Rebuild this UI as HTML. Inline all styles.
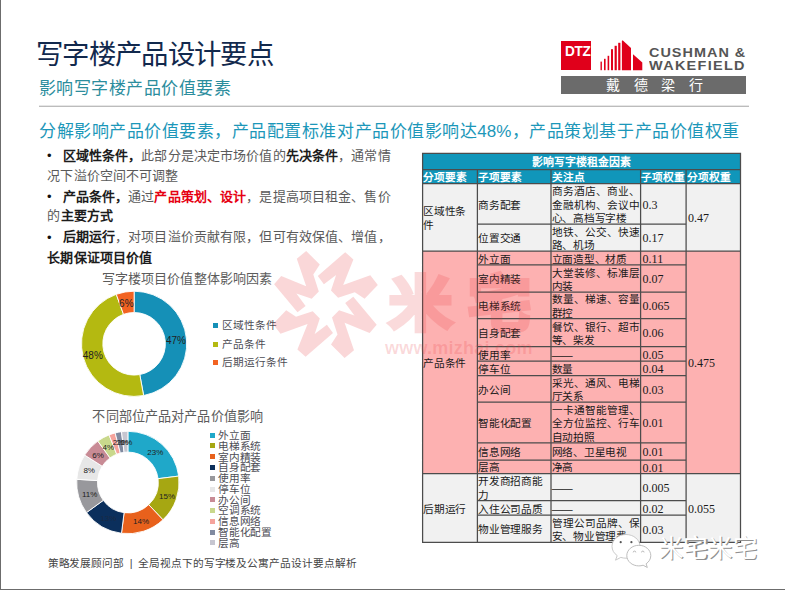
<!DOCTYPE html>
<html lang="zh-CN">
<head>
<meta charset="utf-8">
<title>写字楼产品设计要点</title>
<style>
html,body{margin:0;padding:0;background:#fff;}
body{width:785px;height:590px;position:relative;overflow:hidden;font-family:"Liberation Sans",sans-serif;color:#222;}
.a{position:absolute;white-space:nowrap;margin:0;padding:0;}
.t{position:absolute;white-space:nowrap;letter-spacing:-0.4px;font-size:10.67px;line-height:13.4px;height:13.4px;color:#1a1a1a;}
.n{position:absolute;white-space:nowrap;font-family:"Liberation Serif",serif;font-size:12px;line-height:13.4px;height:13.4px;color:#1a1a1a;}
.h{position:absolute;white-space:nowrap;letter-spacing:-0.2px;font-size:10.67px;line-height:13.4px;height:13.4px;color:#fff;font-weight:bold;}
.b{position:absolute;white-space:nowrap;font-size:13px;line-height:20px;height:20px;color:#5a5a5a;}
.b b{color:#1c1c1c;}
.b b.r{color:#e60012;}
.lg{position:absolute;white-space:nowrap;letter-spacing:-0.4px;font-size:10.67px;line-height:12px;height:12px;color:#4d4d55;}
.sq{position:absolute;width:5px;height:5px;}
.pl{position:absolute;white-space:nowrap;font-size:10px;line-height:12px;height:12px;color:#222;transform:translate(-50%,-50%);}
svg{position:absolute;left:0;top:0;overflow:visible;}
</style>
</head>
<body>

<div class="a" style="left:0;top:0;width:1px;height:590px;background:#6c6c6c"></div>
<div class="a" style="left:0;top:589px;width:785px;height:1px;background:#6c6c6c"></div>
<div class="a" style="left:36.0px;top:37.0px;font-size:27.4px;line-height:35.6px;height:35.6px;color:#12294d;font-weight:300;letter-spacing:-2px;width:235.8px;text-align:justify;text-align-last:justify;">写字楼产品设计要点</div>
<div class="a" style="left:39.0px;top:77.5px;font-size:17px;line-height:22.1px;height:22.1px;color:#2b8d9d;width:191.6px;text-align:justify;text-align-last:justify;">影响写字楼产品价值要素</div>
<div class="a" style="left:39px;top:105px;width:710px;height:2px;background:linear-gradient(#e6e6e6 50%,#bcbcbc 50%)"></div>
<div class="a" style="left:39.0px;top:121.0px;font-size:17px;line-height:22.1px;height:22.1px;color:#1c97b9;width:700.2px;text-align:justify;text-align-last:justify;">分解影响产品价值要素，产品配置标准对产品价值影响达48%，产品策划基于产品价值权重</div>
<div class="a" style="left:47.0px;top:146.1px;font-size:13px;line-height:20px;height:20px;color:#111">•</div>
<div class="b" style="left:62.6px;top:145.7px;width:328.0px;text-align:justify;text-align-last:justify;"><b>区域性条件，</b>此部分是决定市场价值的<b>先决条件</b>，通常情</div>
<div class="b" style="left:47.4px;top:165.6px;width:130.6px;text-align:justify;text-align-last:justify;">况下溢价空间不可调整</div>
<div class="a" style="left:47.0px;top:186.9px;font-size:13px;line-height:20px;height:20px;color:#111">•</div>
<div class="b" style="left:62.6px;top:186.5px;width:328.0px;text-align:justify;text-align-last:justify;"><b>产品条件，</b>通过<b class="r">产品策划、设计</b>，是提高项目租金、售价</div>
<div class="b" style="left:47.4px;top:206.3px;width:65.4px;text-align:justify;text-align-last:justify;">的<b>主要方式</b></div>
<div class="a" style="left:47.0px;top:227.6px;font-size:13px;line-height:20px;height:20px;color:#111">•</div>
<div class="b" style="left:62.6px;top:227.2px;width:328.0px;text-align:justify;text-align-last:justify;"><b>后期运行</b>，对项目溢价贡献有限，但可有效保值、增值，</div>
<div class="b" style="left:47.4px;top:247.6px;width:104.6px;text-align:justify;text-align-last:justify;"><b>长期保证项目价值</b></div>
<div class="a" style="left:102.0px;top:270.2px;font-size:13.05px;line-height:17.0px;height:17.0px;color:#5c5c5c;width:170.0px;text-align:justify;text-align-last:justify;">写字楼项目价值整体影响因素</div>
<div class="a" style="left:92.4px;top:408.2px;font-size:13.1px;line-height:17.0px;height:17.0px;color:#5c5c5c;width:170.6px;text-align:justify;text-align-last:justify;">不同部位产品对产品价值影响</div>
<svg width="785" height="590" viewBox="0 0 785 590">
<path d="M134.10 291.20A52.6 52.6 0 0 1 143.63 395.53L139.77 374.58A31.3 31.3 0 0 0 134.10 312.50Z" fill="#1590b7" stroke="#fff" stroke-width="0.9" stroke-linejoin="round"/>
<path d="M143.63 395.53A52.6 52.6 0 0 1 116.28 294.31L123.50 314.35A31.3 31.3 0 0 0 139.77 374.58Z" fill="#b4b911" stroke="#fff" stroke-width="0.9" stroke-linejoin="round"/>
<path d="M116.28 294.31A52.6 52.6 0 0 1 134.10 291.20L134.10 312.50A31.3 31.3 0 0 0 123.50 314.35Z" fill="#f26322" stroke="#fff" stroke-width="0.9" stroke-linejoin="round"/>
<path d="M127.90 431.30A51.2 51.2 0 0 1 178.70 476.08L158.06 478.69A30.4 30.4 0 0 0 127.90 452.10Z" fill="#1fa8c9" stroke="#fff" stroke-width="0.9" stroke-linejoin="round"/>
<path d="M178.70 476.08A51.2 51.2 0 0 1 162.95 519.82L148.71 504.66A30.4 30.4 0 0 0 158.06 478.69Z" fill="#a6a712" stroke="#fff" stroke-width="0.9" stroke-linejoin="round"/>
<path d="M162.95 519.82A51.2 51.2 0 0 1 121.48 533.30L124.09 512.66A30.4 30.4 0 0 0 148.71 504.66Z" fill="#e8611c" stroke="#fff" stroke-width="0.9" stroke-linejoin="round"/>
<path d="M121.48 533.30A51.2 51.2 0 0 1 86.48 512.59L103.31 500.37A30.4 30.4 0 0 0 124.09 512.66Z" fill="#0b2f5c" stroke="#fff" stroke-width="0.9" stroke-linejoin="round"/>
<path d="M86.48 512.59A51.2 51.2 0 0 1 76.80 479.29L97.56 480.59A30.4 30.4 0 0 0 103.31 500.37Z" fill="#98989c" stroke="#fff" stroke-width="0.9" stroke-linejoin="round"/>
<path d="M76.80 479.29A51.2 51.2 0 0 1 84.67 455.07L102.23 466.21A30.4 30.4 0 0 0 97.56 480.59Z" fill="#e7e7e7" stroke="#fff" stroke-width="0.9" stroke-linejoin="round"/>
<path d="M84.67 455.07A51.2 51.2 0 0 1 97.81 441.08L110.03 457.91A30.4 30.4 0 0 0 102.23 466.21Z" fill="#c88b95" stroke="#fff" stroke-width="0.9" stroke-linejoin="round"/>
<path d="M97.81 441.08A51.2 51.2 0 0 1 109.05 434.90L116.71 454.23A30.4 30.4 0 0 0 110.03 457.91Z" fill="#c9d88c" stroke="#fff" stroke-width="0.9" stroke-linejoin="round"/>
<path d="M109.05 434.90A51.2 51.2 0 0 1 115.17 432.91L120.34 453.06A30.4 30.4 0 0 0 116.71 454.23Z" fill="#f5a39c" stroke="#fff" stroke-width="0.9" stroke-linejoin="round"/>
<path d="M115.17 432.91A51.2 51.2 0 0 1 121.48 431.70L124.09 452.34A30.4 30.4 0 0 0 120.34 453.06Z" fill="#808aa0" stroke="#fff" stroke-width="0.9" stroke-linejoin="round"/>
<path d="M121.48 431.70A51.2 51.2 0 0 1 127.90 431.30L127.90 452.10A30.4 30.4 0 0 0 124.09 452.34Z" fill="#c6c6d0" stroke="#fff" stroke-width="0.9" stroke-linejoin="round"/>
</svg>
<div class="pl" style="left:175.9px;top:341.4px;color:#222;font-size:10px">47%</div>
<div class="pl" style="left:92.8px;top:356.2px;color:#222;font-size:10px">48%</div>
<div class="pl" style="left:126.3px;top:303.9px;color:#222;font-size:10px">6%</div>
<div class="pl" style="left:155.3px;top:453.2px;color:#222;font-size:8px">23%</div>
<div class="pl" style="left:167px;top:497.3px;color:#222;font-size:8px">15%</div>
<div class="pl" style="left:141.1px;top:522.3px;color:#222;font-size:8px">14%</div>
<div class="pl" style="left:108.3px;top:518.9px;color:#1a2a44;font-size:8px">13%</div>
<div class="pl" style="left:89.7px;top:495.2px;color:#222;font-size:8px">11%</div>
<div class="pl" style="left:89.2px;top:471.2px;color:#222;font-size:8px">8%</div>
<div class="pl" style="left:98.1px;top:456.0px;color:#222;font-size:8px">6%</div>
<div class="pl" style="left:108.3px;top:447.9px;color:#222;font-size:8px">4%</div>
<div class="pl" style="left:118.5px;top:443.4px;color:#222;font-size:8px">2%</div>
<div class="pl" style="left:122.5px;top:443.4px;color:#222;font-size:8px">2%</div>
<div class="pl" style="left:126.5px;top:443.4px;color:#222;font-size:8px">2%</div>
<div class="sq" style="left:213.2px;top:323.0px;background:#1590b7"></div>
<div class="lg" style="left:221.8px;top:319.4px;width:54.5px;text-align:justify;text-align-last:justify;">区域性条件</div>
<div class="sq" style="left:213.2px;top:341.6px;background:#b4b911"></div>
<div class="lg" style="left:221.8px;top:338.0px;width:43.6px;text-align:justify;text-align-last:justify;">产品条件</div>
<div class="sq" style="left:213.2px;top:359.7px;background:#f26322"></div>
<div class="lg" style="left:221.8px;top:356.1px;width:65.4px;text-align:justify;text-align-last:justify;">后期运行条件</div>
<div class="sq" style="left:210.0px;top:432.9px;background:#1fa8c9"></div>
<div class="lg" style="left:218.3px;top:429.3px;width:32.1px;text-align:justify;text-align-last:justify;">外立面</div>
<div class="sq" style="left:210.0px;top:443.4px;background:#a6a712"></div>
<div class="lg" style="left:218.3px;top:439.8px;width:42.8px;text-align:justify;text-align-last:justify;">电梯系统</div>
<div class="sq" style="left:210.0px;top:454.2px;background:#e8611c"></div>
<div class="lg" style="left:218.3px;top:450.6px;width:42.8px;text-align:justify;text-align-last:justify;">室内精装</div>
<div class="sq" style="left:210.0px;top:465.0px;background:#0b2f5c"></div>
<div class="lg" style="left:218.3px;top:461.4px;width:42.8px;text-align:justify;text-align-last:justify;">自身配套</div>
<div class="sq" style="left:210.0px;top:475.8px;background:#98989c"></div>
<div class="lg" style="left:218.3px;top:472.2px;width:32.1px;text-align:justify;text-align-last:justify;">使用率</div>
<div class="sq" style="left:210.0px;top:486.8px;background:#e7e7e7"></div>
<div class="lg" style="left:218.3px;top:483.2px;width:32.1px;text-align:justify;text-align-last:justify;">停车位</div>
<div class="sq" style="left:210.0px;top:497.4px;background:#c88b95"></div>
<div class="lg" style="left:218.3px;top:493.8px;width:32.1px;text-align:justify;text-align-last:justify;">办公间</div>
<div class="sq" style="left:210.0px;top:508.0px;background:#c9d88c"></div>
<div class="lg" style="left:218.3px;top:504.4px;width:42.8px;text-align:justify;text-align-last:justify;">空调系统</div>
<div class="sq" style="left:210.0px;top:518.8px;background:#f5a39c"></div>
<div class="lg" style="left:218.3px;top:515.2px;width:42.8px;text-align:justify;text-align-last:justify;">信息网络</div>
<div class="sq" style="left:210.0px;top:529.8px;background:#808aa0"></div>
<div class="lg" style="left:218.3px;top:526.2px;width:53.5px;text-align:justify;text-align-last:justify;">智能化配置</div>
<div class="sq" style="left:210.0px;top:540.3px;background:#c6c6d0"></div>
<div class="lg" style="left:218.3px;top:536.7px;width:21.4px;text-align:justify;text-align-last:justify;">层高</div>
<div class="a" style="left:47.6px;top:556.6px;font-size:10.67px;line-height:13.9px;height:13.9px;color:#444;letter-spacing:-0.3px;width:308.8px;text-align:justify;text-align-last:justify;">策略发展顾问部&nbsp;&nbsp;|&nbsp;&nbsp;全局视点下的写字楼及公寓产品设计要点解析</div>
<svg width="785" height="590" viewBox="0 0 785 590">
<rect x="422.6" y="153.3" width="317.9" height="30.4" fill="#1096ba"/>
<rect x="422.6" y="183.7" width="317.9" height="67.3" fill="#f1f1f1"/>
<rect x="422.6" y="251" width="317.9" height="222.5" fill="#fdb1b1"/>
<rect x="422.6" y="473.5" width="317.9" height="68.9" fill="#f1f1f1"/>
<path d="M422.6 153.3H740.5M422.6 169.5H740.5M422.6 183.7H740.5M477.4 224H686.1M422.6 251H740.5M477.4 264.9H686.1M477.4 292.1H686.1M477.4 318.6H686.1M477.4 346.6H686.1M477.4 361.2H686.1M477.4 375.6H686.1M477.4 402.2H686.1M477.4 442.9H686.1M477.4 460H686.1M422.6 473.5H740.5M477.4 500.7H686.1M477.4 515.0H686.1M422.6 542.4H740.5M422.6 152.70000000000002V543.0M477.4 169.5V542.4M551 169.5V542.4M640.6 169.5V542.4M686.1 169.5V542.4M740.5 152.70000000000002V543.0" stroke="#4c4c4c" stroke-width="1.25" fill="none"/>
</svg>
<div class="h" style="left:532.3px;width:98.4px;text-align:justify;text-align-last:justify;top:155.7px;font-size:10.9px">影响写字楼租金因素</div>
<div class="h" style="left:423.4px;top:170.9px;width:43.6px;text-align:justify;text-align-last:justify;">分项要素</div>
<div class="h" style="left:478.2px;top:170.9px;width:43.6px;text-align:justify;text-align-last:justify;">子项要素</div>
<div class="h" style="left:551.8px;top:170.9px;width:32.7px;text-align:justify;text-align-last:justify;">关注点</div>
<div class="h" style="left:641.4px;top:170.9px;width:43.6px;text-align:justify;text-align-last:justify;">子项权重</div>
<div class="h" style="left:686.9px;top:170.9px;width:43.6px;text-align:justify;text-align-last:justify;">分项权重</div>
<div class="t" style="left:423.4px;top:205.3px;width:42.7px;text-align:justify;text-align-last:justify;">区域性条</div>
<div class="t" style="left:423.4px;top:218.8px;width:10.7px;text-align:justify;text-align-last:justify;">件</div>
<div class="t" style="left:423.4px;top:356.9px;width:42.7px;text-align:justify;text-align-last:justify;">产品条件</div>
<div class="t" style="left:423.4px;top:502.6px;width:42.7px;text-align:justify;text-align-last:justify;">后期运行</div>
<div class="t" style="left:478.2px;top:198.6px;width:42.7px;text-align:justify;text-align-last:justify;">商务配套</div>
<div class="t" style="left:551.8px;top:185.2px;width:87.4px;text-align:justify;text-align-last:justify;">商务酒店、商业、</div>
<div class="t" style="left:551.8px;top:198.6px;width:87.4px;text-align:justify;text-align-last:justify;">金融机构、会议中</div>
<div class="t" style="left:551.8px;top:212.0px;width:74.7px;text-align:justify;text-align-last:justify;">心、高档写字楼</div>
<div class="n" style="left:642.6px;top:198.7px;">0.3</div>
<div class="t" style="left:478.2px;top:232.2px;width:42.7px;text-align:justify;text-align-last:justify;">位置交通</div>
<div class="t" style="left:551.8px;top:225.5px;width:87.4px;text-align:justify;text-align-last:justify;">地铁、公交、快速</div>
<div class="t" style="left:551.8px;top:238.9px;width:42.7px;text-align:justify;text-align-last:justify;">路、机场</div>
<div class="n" style="left:642.6px;top:232.3px;">0.17</div>
<div class="t" style="left:478.2px;top:252.7px;width:32.0px;text-align:justify;text-align-last:justify;">外立面</div>
<div class="t" style="left:551.8px;top:252.7px;width:74.7px;text-align:justify;text-align-last:justify;">立面造型、材质</div>
<div class="n" style="left:642.6px;top:252.8px;">0.11</div>
<div class="t" style="left:478.2px;top:273.2px;width:42.7px;text-align:justify;text-align-last:justify;">室内精装</div>
<div class="t" style="left:551.8px;top:266.5px;width:87.4px;text-align:justify;text-align-last:justify;">大堂装修、标准层</div>
<div class="t" style="left:551.8px;top:279.9px;width:21.3px;text-align:justify;text-align-last:justify;">内装</div>
<div class="n" style="left:642.6px;top:273.3px;">0.07</div>
<div class="t" style="left:478.2px;top:300.1px;width:42.7px;text-align:justify;text-align-last:justify;">电梯系统</div>
<div class="t" style="left:551.8px;top:293.4px;width:87.4px;text-align:justify;text-align-last:justify;">数量、梯速、容量</div>
<div class="t" style="left:551.8px;top:306.8px;width:21.3px;text-align:justify;text-align-last:justify;">群控</div>
<div class="n" style="left:642.6px;top:300.2px;">0.065</div>
<div class="t" style="left:478.2px;top:327.3px;width:42.7px;text-align:justify;text-align-last:justify;">自身配套</div>
<div class="t" style="left:551.8px;top:320.6px;width:87.4px;text-align:justify;text-align-last:justify;">餐饮、银行、超市</div>
<div class="t" style="left:551.8px;top:334.0px;width:42.7px;text-align:justify;text-align-last:justify;">等、柴发</div>
<div class="n" style="left:642.6px;top:327.4px;">0.06</div>
<div class="t" style="left:478.2px;top:348.6px;width:32.0px;text-align:justify;text-align-last:justify;">使用率</div>
<div class="t" style="left:551.8px;top:348.6px;">——</div>
<div class="n" style="left:642.6px;top:348.7px;">0.05</div>
<div class="t" style="left:478.2px;top:363.1px;width:32.0px;text-align:justify;text-align-last:justify;">停车位</div>
<div class="t" style="left:551.8px;top:363.1px;width:21.3px;text-align:justify;text-align-last:justify;">数量</div>
<div class="n" style="left:642.6px;top:363.2px;">0.04</div>
<div class="t" style="left:478.2px;top:383.6px;width:32.0px;text-align:justify;text-align-last:justify;">办公间</div>
<div class="t" style="left:551.8px;top:376.9px;width:87.4px;text-align:justify;text-align-last:justify;">采光、通风、电梯</div>
<div class="t" style="left:551.8px;top:390.3px;width:32.0px;text-align:justify;text-align-last:justify;">厅关系</div>
<div class="n" style="left:642.6px;top:383.7px;">0.03</div>
<div class="t" style="left:478.2px;top:417.2px;width:53.4px;text-align:justify;text-align-last:justify;">智能化配置</div>
<div class="t" style="left:551.8px;top:403.8px;width:87.4px;text-align:justify;text-align-last:justify;">一卡通智能管理、</div>
<div class="t" style="left:551.8px;top:417.2px;width:87.4px;text-align:justify;text-align-last:justify;">全方位监控、行车</div>
<div class="t" style="left:551.8px;top:430.6px;width:42.7px;text-align:justify;text-align-last:justify;">自动拍照</div>
<div class="n" style="left:642.6px;top:417.3px;">0.01</div>
<div class="t" style="left:478.2px;top:446.1px;width:42.7px;text-align:justify;text-align-last:justify;">信息网络</div>
<div class="t" style="left:551.8px;top:446.1px;width:74.7px;text-align:justify;text-align-last:justify;">网络、卫星电视</div>
<div class="n" style="left:642.6px;top:446.2px;">0.01</div>
<div class="t" style="left:478.2px;top:461.4px;width:21.3px;text-align:justify;text-align-last:justify;">层高</div>
<div class="t" style="left:551.8px;top:461.4px;width:21.3px;text-align:justify;text-align-last:justify;">净高</div>
<div class="n" style="left:642.6px;top:461.6px;">0.01</div>
<div class="t" style="left:478.2px;top:475.1px;width:64.0px;text-align:justify;text-align-last:justify;">开发商招商能</div>
<div class="t" style="left:478.2px;top:488.5px;width:10.7px;text-align:justify;text-align-last:justify;">力</div>
<div class="t" style="left:551.8px;top:481.8px;">——</div>
<div class="n" style="left:642.6px;top:481.9px;">0.005</div>
<div class="t" style="left:478.2px;top:502.6px;width:64.0px;text-align:justify;text-align-last:justify;">入住公司品质</div>
<div class="t" style="left:551.8px;top:502.6px;">——</div>
<div class="n" style="left:642.6px;top:502.7px;">0.02</div>
<div class="t" style="left:478.2px;top:523.4px;width:64.0px;text-align:justify;text-align-last:justify;">物业管理服务</div>
<div class="t" style="left:551.8px;top:516.7px;width:87.4px;text-align:justify;text-align-last:justify;">管理公司品牌、保</div>
<div class="t" style="left:551.8px;top:530.1px;width:74.7px;text-align:justify;text-align-last:justify;">安、物业管理费</div>
<div class="n" style="left:642.6px;top:523.5px;">0.03</div>
<div class="n" style="left:688.1px;top:212.2px;">0.47</div>
<div class="n" style="left:688.1px;top:357.1px;">0.475</div>
<div class="n" style="left:688.1px;top:502.8px;">0.055</div>
<div class="a" style="left:561.1px;top:40.6px;width:30.3px;height:29.6px;background:#e0001b"></div>
<div class="a" style="left:565.4px;top:43.3px;font-size:15.4px;line-height:16px;font-weight:bold;color:#fff;letter-spacing:-0.4px;transform-origin:0 0;transform:scaleX(0.885)">DTZ</div>
<svg width="785" height="590" viewBox="0 0 785 590"><g fill="#e0001b">
<rect x="600.5" y="61.6" width="1.4" height="8.6"/>
<rect x="604.0" y="58.8" width="1.6" height="11.4"/>
<rect x="607.6" y="55.8" width="1.6" height="14.4"/>
<rect x="611.0" y="49.2" width="2.0" height="21.0"/>
<rect x="614.6" y="45.8" width="2.2" height="24.4"/>
<rect x="618.2" y="42.8" width="2.2" height="27.4"/>
<path d="M621.9 40.9L622.6 40.3L631 47.9V70.2H621.9Z"/>
<path d="M633 54.3L642.3 62.6V70.2H633Z"/>
</g></svg>
<div class="a" style="left:649.2px;top:45.9px;font-size:12.9px;line-height:14.4px;font-weight:bold;color:#555;letter-spacing:0.9px;transform-origin:0 0;transform:scaleX(1.12)">CUSHMAN &amp;</div>
<div class="a" style="left:649.2px;top:59.2px;font-size:12.9px;line-height:14.4px;font-weight:bold;color:#555;letter-spacing:1.17px;transform-origin:0 0;transform:scaleX(1.12)">WAKEFIELD</div>
<div class="a" style="left:561.1px;top:76px;width:185.4px;height:17.6px;background:#6b6b6b"></div>
<div class="a" style="left:606.0px;top:76.9px;width:14px;text-align:center;font-size:14px;line-height:16px;color:#fff;font-weight:300">戴</div>
<div class="a" style="left:633.8px;top:76.9px;width:14px;text-align:center;font-size:14px;line-height:16px;color:#fff;font-weight:300">德</div>
<div class="a" style="left:661.2px;top:76.9px;width:14px;text-align:center;font-size:14px;line-height:16px;color:#fff;font-weight:300">梁</div>
<div class="a" style="left:688.9px;top:76.9px;width:14px;text-align:center;font-size:14px;line-height:16px;color:#fff;font-weight:300">行</div>
<svg width="785" height="590" viewBox="0 0 785 590"><g fill="#e8383d" fill-opacity="0.2" transform="translate(0 304.5) scale(1 1.02) translate(0 -304.5)">
<polygon points="306.2,252.1 319.8,265.3 313.3,275.1 318.8,291.8 311.7,298.9 296.4,293.8 305.6,306.0 297.5,312.1 274.1,284.7 281.2,276.5 306.2,286.7 296.8,259.6"/>
<polygon points="377.8,285.3 364.6,298.9 354.8,292.4 338.1,297.9 331.0,290.8 336.1,275.5 323.9,284.7 317.8,276.6 345.2,253.2 353.4,260.3 343.2,285.3 370.3,275.9"/>
<polygon points="344.6,356.9 331.0,343.7 337.5,333.9 332.0,317.2 339.1,310.1 354.4,315.2 345.2,303.0 353.3,296.9 376.7,324.3 369.6,332.5 344.6,322.3 354.0,349.4"/>
<polygon points="273.0,323.7 286.2,310.1 296.0,316.6 312.7,311.1 319.8,318.2 314.7,333.5 326.9,324.3 333.0,332.4 305.6,355.8 297.4,348.7 307.6,323.7 280.5,333.1"/>
</g></svg>
<div class="a" style="left:388.5px;top:259.4px;font-size:63px;line-height:90px;font-weight:bold;color:#e8383d;-webkit-text-stroke:4.5px #e8383d;opacity:0.18;width:142px;text-align:justify;text-align-last:justify;transform-origin:0 50%;transform:scaleY(0.94)">米宅</div>
<div class="a" style="left:385px;top:336.6px;font-size:18px;line-height:22px;font-weight:bold;letter-spacing:0.25px;color:rgba(232,56,61,0.19)">www.mizhai.com</div>
<svg width="785" height="590" viewBox="0 0 785 590"><g fill="#fff" stroke="#c4c4c4" stroke-width="0.9">
<path d="M626 534.5c-7.700 0-14 5.300-14 11.900 0 3.700 2 7 5.200 9.200l-1.700 4.600 5.300-2.800c1.600.5 3.400.8 5.200.8 7.700 0 14-5.300 14-11.800s-6.300-11.900-14-11.900z"/>
<path d="M638.8 545.300c-6.600 0-12 4.600-12 10.300s5.400 10.300 12 10.300c1.500 0 3-.2 4.300-.7l4.200 2.300-1.200-3.700c2.900-1.900 4.700-4.900 4.700-8.200 0-5.700-5.400-10.300-12-10.300z" stroke="#b5b5b5"/>
</g><g fill="#555"><circle cx="620.7" cy="542.2" r="1.100"/><circle cx="631.4" cy="542.2" r="1.100"/></g><g fill="none" stroke="#b0b0b0" stroke-width="0.9"><path d="M633.200 552.400a1.300 1.300 0 0 1 2.600 0M641.500 552.400a1.300 1.300 0 0 1 2.600 0"/></g></svg>
<div class="a" style="left:658.6px;top:533.6px;font-size:24.6px;line-height:30px;font-weight:300;letter-spacing:-0.5px;width:99px;text-align:justify;text-align-last:justify;color:#fff;text-shadow:1.2px 1.2px 0 #909090">米宅米宅</div>
</body>
</html>
